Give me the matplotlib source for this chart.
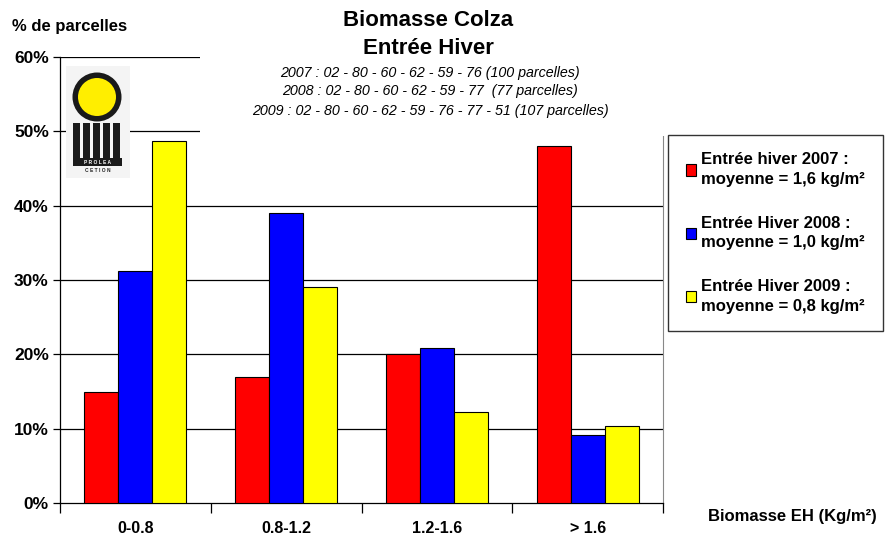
import numpy as np
import matplotlib.pyplot as plt
from matplotlib.patches import Rectangle, Circle

plt.rcParams['font.family'] = ['Liberation Sans', 'DejaVu Sans']

categories = ['0-0.8', '0.8-1.2', '1.2-1.6', '> 1.6']
v2007 = [15.0, 17.0, 20.0, 48.0]
v2008 = [31.2, 39.0, 20.8, 9.1]
v2009 = [48.7, 29.0, 12.2, 10.3]
labels = ['Entrée hiver 2007 :\nmoyenne = 1,6 kg/m²',
          'Entrée Hiver 2008 :\nmoyenne = 1,0 kg/m²',
          'Entrée Hiver 2009 :\nmoyenne = 0,8 kg/m²']
colors = ['#ff0000', '#0000ff', '#ffff00']
yticks = [0, 10, 20, 30, 40, 50, 60]

W, H = 891, 535
fig = plt.figure(figsize=(W / 100, H / 100), dpi=100)

def fx(px):
    return px / W

def fy(py):
    return 1 - py / H

ax = fig.add_axes([fx(60), fy(503), fx(663) - fx(60), fy(57) - fy(503)])
x = np.arange(len(categories))
w = 0.225
bars = []
for i, (vals, c) in enumerate(zip([v2007, v2008, v2009], colors)):
    b = ax.bar(x + (i - 1) * w, vals, width=w, color=c, edgecolor='black',
               linewidth=0.8, zorder=3, label=labels[i])
    bars.append(b)

ax.set_xlim(-0.5, len(categories) - 0.5)
ax.set_ylim(0, 60)
ax.set_yticks(yticks)
ax.set_yticklabels([f'{t}%' for t in yticks], fontsize=12.5, fontweight='bold')
for t in yticks[1:]:
    ax.axhline(t, color='black', linewidth=0.9, zorder=1)

ax.set_xticks(np.arange(-0.5, len(categories), 1.0))
ax.set_xticklabels([])
ax.set_xticks(x, minor=True)
ax.set_xticklabels(categories, minor=True, fontsize=11.5, fontweight='bold')
ax.tick_params(axis='x', which='major', direction='out', length=7, width=0.9)
ax.tick_params(axis='x', which='minor', length=0, pad=13)
ax.tick_params(axis='y', direction='out', length=5, width=0.9, pad=3)
ax.spines['top'].set_visible(False)
ax.spines['right'].set_color('#888888')
ax.spines['left'].set_linewidth(0.9)
ax.spines['bottom'].set_linewidth(0.9)

# white box behind the subtitle, hiding the grid
fig.patches.append(Rectangle((fx(200), fy(136)), fx(665) - fx(200), fy(50) - fy(136),
                             transform=fig.transFigure, facecolor='white',
                             edgecolor='none', zorder=5))

fig.text(fx(428), fy(20), 'Biomasse Colza', ha='center', va='center',
         fontsize=16, fontweight='bold', zorder=7)
fig.text(fx(428), fy(48), 'Entrée Hiver', ha='center', va='center',
         fontsize=16, fontweight='bold', zorder=7)
sub = ['2007 : 02 - 80 - 60 - 62 - 59 - 76 (100 parcelles)',
       '2008 : 02 - 80 - 60 - 62 - 59 - 77  (77 parcelles)',
       '2009 : 02 - 80 - 60 - 62 - 59 - 76 - 77 - 51 (107 parcelles)']
for s, yy in zip(sub, [73, 91, 111]):
    fig.text(fx(430), fy(yy), s, ha='center', va='center', fontsize=10.3,
             style='italic', zorder=7)

fig.text(fx(12), fy(27), '% de parcelles', ha='left', va='center',
         fontsize=12, fontweight='bold')
fig.text(fx(877), fy(517), 'Biomasse EH (Kg/m²)', ha='right', va='center',
         fontsize=12, fontweight='bold')

# logo
lg = fig.add_axes([fx(66), fy(178), fx(130) - fx(66), fy(66) - fy(178)], zorder=6)
lg.set_xlim(66, 130)
lg.set_ylim(178, 66)
lg.axis('off')
lg.add_patch(Rectangle((66, 66), 64, 112, facecolor='#f4f4f4', edgecolor='none'))
lg.add_patch(Circle((97, 97), 24.5, facecolor='#1a1a1a', edgecolor='none'))
lg.add_patch(Circle((97, 97), 19, facecolor='#ffee00', edgecolor='none'))
for bx in [73, 83, 93, 103, 113]:
    lg.add_patch(Rectangle((bx, 123), 7, 35, facecolor='#1a1a1a', edgecolor='none'))
lg.add_patch(Rectangle((73, 158), 49, 8, facecolor='#1a1a1a', edgecolor='none'))
lg.text(97.5, 162, 'P R O L E A', ha='center', va='center', fontsize=3.5,
        color='white', fontweight='bold')
lg.text(97.5, 170, 'C E T I O N', ha='center', va='center', fontsize=3.5,
        color='#222222', fontweight='bold')

leg = fig.legend(handles=bars, labels=labels, loc='upper left',
                 bbox_to_anchor=(fx(668), fy(135)),
                 prop={'weight': 'bold', 'size': 12}, frameon=True,
                 fancybox=False, edgecolor='black', labelspacing=1.7,
                 handlelength=0.65, handleheight=0.65, handletextpad=0.3,
                 borderpad=1.05, borderaxespad=0)
for t in leg.get_texts():
    t.set_linespacing(1.4)
leg.get_frame().set_linewidth(1.0)

fig.savefig('out.png', dpi=100)
